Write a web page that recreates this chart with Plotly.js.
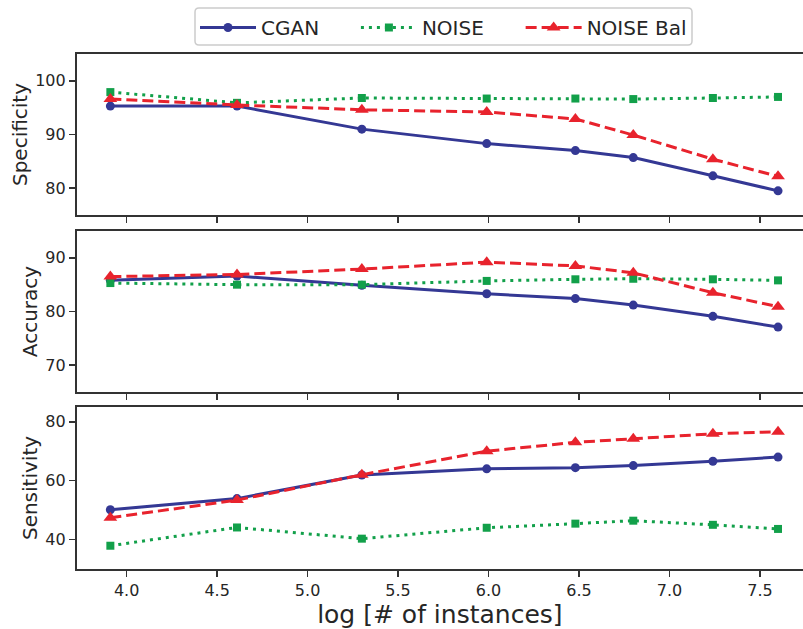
<!DOCTYPE html>
<html>
<head>
<meta charset="utf-8">
<script src="https://cdn.plot.ly/plotly-3.0.1.min.js"></script>
<style>
html, body { margin: 0; padding: 0; background: #ffffff; overflow: hidden; }
#chart { width: 803px; height: 629px; }
</style>
</head>
<body>
<div id="chart"></div>
<script>
// x positions: log of number of instances
const logInstances = [3.91, 4.61, 5.30, 5.99, 6.48, 6.80, 7.24, 7.60];

const seriesNames = ['CGAN', 'NOISE', 'NOISE Bal'];

// Specificity
const specCGAN  = [95.3, 95.3, 91.0, 88.3, 87.0, 85.7, 82.3, 79.5];
const specNoise = [97.9, 95.9, 96.8, 96.7, 96.7, 96.6, 96.8, 97.0];
const specBal   = [96.6, 95.5, 94.6, 94.2, 92.9, 89.9, 85.4, 82.2];

// Accuracy
const accCGAN  = [85.8, 86.6, 84.9, 83.3, 82.4, 81.2, 79.1, 77.1];
const accNoise = [85.3, 85.0, 85.0, 85.7, 86.0, 86.1, 86.0, 85.8];
const accBal   = [86.5, 86.9, 87.9, 89.2, 88.5, 87.2, 83.5, 80.9];

// Sensitivity
const senCGAN  = [50.1, 53.9, 61.9, 64.0, 64.4, 65.1, 66.6, 68.0];
const senNoise = [37.9, 44.1, 40.3, 44.0, 45.4, 46.4, 45.0, 43.6];
const senBal   = [47.4, 53.4, 62.0, 70.0, 73.0, 74.2, 75.9, 76.6];

const panelTitles = ['Specificity', 'Accuracy', 'Sensitivity'];

const FONT = 'DejaVu Sans, sans-serif';
const INK = '#262626';
const AXC = '#333333';
const PAD = '\u00A0\u00A0\u00A0\u00A0\u00A0';

const styles = [
  {color: '#343894', dash: 'solid', symbol: 'circle', size: 9},
  {color: '#12a04a', dash: '3px,5px', symbol: 'square', size: 8},
  {color: '#e8232d', dash: '11px,5px', symbol: 'triangle-up', size: 12}
];

// panel order: top (Specificity), middle (Accuracy), bottom (Sensitivity)
const panels = [
  [specCGAN, specNoise, specBal],
  [accCGAN, accNoise, accBal],
  [senCGAN, senNoise, senBal]
];
const axisIds = [['x3', 'y3'], ['x2', 'y2'], ['x', 'y']];

const traces = [];
panels.forEach((sets, p) => {
  sets.forEach((vals, s) => {
    const st = styles[s];
    traces.push({
      type: 'scatter', mode: 'lines+markers',
      x: logInstances, y: vals,
      name: s < 2 ? seriesNames[s] + PAD : seriesNames[s],
      legendgroup: seriesNames[s],
      showlegend: p === 0,
      xaxis: axisIds[p][0],
      yaxis: axisIds[p][1],
      line: {color: st.color, width: 3, dash: st.dash},
      marker: {color: st.color, symbol: st.symbol, size: st.size, line: {width: 0}},
      cliponaxis: false
    });
  });
});

const W = 803, H = 629;
const xDom = [76.7 / W, 1];
function yDom(top, bottom) { return [1 - bottom / H, 1 - top / H]; }

function xAxis(anchor, showLabels, extra) {
  return Object.assign({
    domain: xDom, anchor: anchor,
    range: [3.724, 7.738],
    dtick: 0.5, tick0: 0, tickformat: '.1f',
    showticklabels: showLabels,
    ticks: 'outside', ticklen: 6, tickwidth: 1.6, tickcolor: AXC,
    showline: true, linecolor: AXC, linewidth: 1.8, mirror: true,
    showgrid: false, zeroline: false,
    tickfont: {family: FONT, size: 16, color: INK}
  }, extra || {});
}
function yAxis(anchor, dom, range, dtick, title) {
  return {
    domain: dom, anchor: anchor, range: range, dtick: dtick,
    ticks: 'outside', ticklen: 6, tickwidth: 1.6, tickcolor: AXC,
    showline: true, linecolor: AXC, linewidth: 1.8,
    showgrid: false, zeroline: false,
    tickfont: {family: FONT, size: 16, color: INK},
    title: {text: title, font: {family: FONT, size: 20, color: INK}, standoff: 2}
  };
}

// rounded legend frame (pixel geometry converted to paper coords)
function roundedBox(x0, y0, x1, y1, r) {
  const X = v => (v / W).toFixed(5), Y = v => (1 - v / H).toFixed(5);
  return 'M' + X(x0 + r) + ',' + Y(y0) +
    ' L' + X(x1 - r) + ',' + Y(y0) + ' Q' + X(x1) + ',' + Y(y0) + ' ' + X(x1) + ',' + Y(y0 + r) +
    ' L' + X(x1) + ',' + Y(y1 - r) + ' Q' + X(x1) + ',' + Y(y1) + ' ' + X(x1 - r) + ',' + Y(y1) +
    ' L' + X(x0 + r) + ',' + Y(y1) + ' Q' + X(x0) + ',' + Y(y1) + ' ' + X(x0) + ',' + Y(y1 - r) +
    ' L' + X(x0) + ',' + Y(y0 + r) + ' Q' + X(x0) + ',' + Y(y0) + ' ' + X(x0 + r) + ',' + Y(y0) + ' Z';
}

const layout = {
  width: W, height: H,
  margin: {l: 0, r: 0, t: 0, b: 0},
  paper_bgcolor: '#ffffff', plot_bgcolor: '#ffffff',
  font: {family: FONT, color: INK},
  showlegend: true,
  legend: {
    orientation: 'h', x: 195 / W, xanchor: 'left', y: 1 - 8 / H, yanchor: 'top',
    borderwidth: 0, bgcolor: 'rgba(0,0,0,0)',
    font: {family: FONT, size: 20, color: INK},
    itemwidth: 56
  },
  shapes: [{
    type: 'path', xref: 'paper', yref: 'paper',
    path: roundedBox(195, 8, 692, 45, 4),
    line: {color: '#cccccc', width: 1.5}, fillcolor: 'rgba(0,0,0,0)', layer: 'above'
  }],
  xaxis: xAxis('y', true, {
    title: {text: 'log [# of instances]', font: {family: FONT, size: 25, color: INK}, standoff: 6}
  }),
  xaxis2: xAxis('y2', false, {matches: 'x'}),
  xaxis3: xAxis('y3', false, {matches: 'x'}),
  yaxis: yAxis('x', yDom(407, 569), [30, 85], 20, panelTitles[2]),
  yaxis2: yAxis('x2', yDom(231, 392), [65, 95], 10, panelTitles[1]),
  yaxis3: yAxis('x3', yDom(54, 215), [75, 105], 10, panelTitles[0])
};

Plotly.newPlot('chart', traces, layout, {displayModeBar: false, staticPlot: true});
</script>
</body>
</html>
